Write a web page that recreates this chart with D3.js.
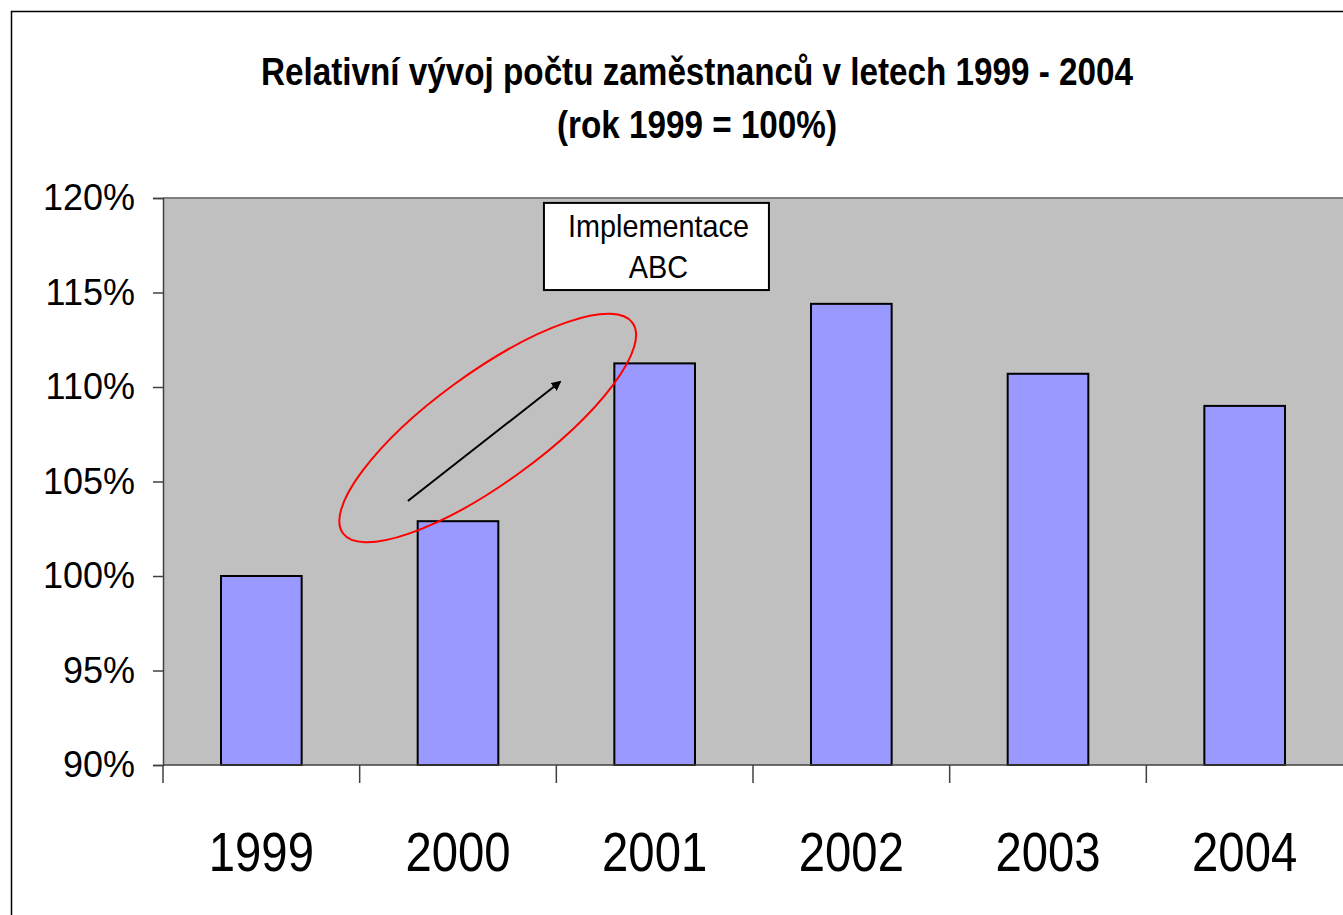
<!DOCTYPE html>
<html>
<head>
<meta charset="utf-8">
<script src="https://cdn.jsdelivr.net/npm/d3@7"></script>
<style>
  body { margin: 0; background: #fff; }
  text { font-family: "Liberation Sans", Arial, sans-serif; fill: #000; }
</style>
</head>
<body>
<svg id="chart" width="1343" height="915"></svg>
<script>
// data - relative headcount, 1999 = 100%
var years = ["1999", "2000", "2001", "2002", "2003", "2004"];
var values = [1.000, 1.029, 1.1125, 1.144, 1.107, 1.090];
var yTicks = [0.90, 0.95, 1.00, 1.05, 1.10, 1.15, 1.20];
var titleLines = ["Relativní vývoj počtu zaměstnanců v letech 1999 - 2004", "(rok 1999 = 100%)"];
var noteLines = ["Implementace", "ABC"];

var W = 1343, H = 915;
var m = { left: 163, top: 198, right: 0, bottom: 150 };

var svg = d3.select("#chart");

// outer chart frame (right / bottom edges run off the page)
svg.append("rect").attr("x", 11.5).attr("y", 11.5).attr("width", W + 20).attr("height", H + 20)
    .attr("fill", "#fff").attr("stroke", "#000").attr("stroke-width", 1.5);

// scales
var x = d3.scaleBand().domain(years).range([m.left, W - m.right])
    .paddingInner(0.59).paddingOuter(0.295);
var y = d3.scaleLinear().domain([0.9, 1.2]).range([765, m.top]);
// continuous position along the category axis (0 = first bar centre)
var xi = d3.scaleLinear().domain([0, years.length - 1])
    .range([x(years[0]) + x.bandwidth() / 2, x(years[years.length - 1]) + x.bandwidth() / 2]);

// plot area
svg.append("rect").attr("x", m.left).attr("y", y(1.2)).attr("width", W - m.left + 10)
    .attr("height", y(0.9) - y(1.2)).attr("fill", "#c0c0c0");
svg.append("line").attr("x1", m.left).attr("x2", W).attr("y1", y(1.2)).attr("y2", y(1.2))
    .attr("stroke", "#808080").attr("stroke-width", 2);

// bars
svg.selectAll("rect.bar").data(values).enter().append("rect").attr("class", "bar")
    .attr("x", (d, i) => x(years[i])).attr("width", x.bandwidth())
    .attr("y", d => y(d)).attr("height", d => y(0.9) - y(d))
    .attr("fill", "#9999ff").attr("stroke", "#000").attr("stroke-width", 2);

// y axis
var yAxis = d3.axisLeft(y).tickValues(yTicks).tickFormat(d3.format(".0%"))
    .tickSize(10).tickPadding(18);
var gy = svg.append("g").attr("transform", "translate(" + m.left + ",0)").call(yAxis);
gy.select(".domain").attr("stroke", "#404040").attr("stroke-width", 1.5);
gy.selectAll(".tick line").attr("stroke", "#404040").attr("stroke-width", 1.5);
gy.selectAll(".tick text").attr("font-size", 36).attr("font-family", "Liberation Sans, Arial, sans-serif")
    .attr("fill", "#000");

// x axis - ticks sit at category boundaries
svg.append("line").attr("x1", m.left).attr("x2", W).attr("y1", y(0.9)).attr("y2", y(0.9))
    .attr("stroke", "#404040").attr("stroke-width", 1.5);
var bounds = d3.range(years.length).map(i => x(years[i]) - x.step() * x.paddingInner() / 2);
svg.selectAll("line.xtick").data(bounds).enter().append("line").attr("class", "xtick")
    .attr("x1", d => d).attr("x2", d => d).attr("y1", y(0.9)).attr("y2", y(0.9) + 18)
    .attr("stroke", "#404040").attr("stroke-width", 1.5);
svg.selectAll("text.xlab").data(years).enter().append("text").attr("class", "xlab")
    .attr("transform", d => "translate(" + (x(d) + x.bandwidth() / 2) + ",871) scale(0.86,1)")
    .attr("text-anchor", "middle").attr("font-size", 55).text(d => d);

// title
svg.selectAll("text.title").data(titleLines).enter().append("text").attr("class", "title")
    .attr("transform", (d, i) => "translate(697," + (85 + i * 53) + ") scale(0.875,1)")
    .attr("text-anchor", "middle").attr("font-size", 38).attr("font-weight", "bold").text(d => d);

// annotation: red ellipse with arrow over the 1999-2001 rise
var defs = svg.append("defs");
defs.append("marker").attr("id", "arrow").attr("viewBox", "0 0 10 10").attr("refX", 8).attr("refY", 5)
    .attr("markerWidth", 5).attr("markerHeight", 5).attr("orient", "auto")
    .append("path").attr("d", "M0,0L10,5L0,10z").attr("fill", "#000");

var ex = xi(1.151), ey = y(1.0783);
svg.append("ellipse").attr("cx", 0).attr("cy", 0).attr("rx", 179).attr("ry", 55)
    .attr("transform", "translate(" + ex + "," + ey + ") rotate(-36)")
    .attr("fill", "none").attr("stroke", "#ff0000").attr("stroke-width", 2);
svg.append("line").attr("x1", xi(0.745)).attr("y1", y(1.0397)).attr("x2", xi(1.518)).attr("y2", y(1.1026))
    .attr("stroke", "#000").attr("stroke-width", 2).attr("marker-end", "url(#arrow)");

// text box
var bx0 = xi(1.437), bx1 = xi(2.581), by0 = y(1.1974), by1 = y(1.1513);
svg.append("rect").attr("x", bx0).attr("y", by0).attr("width", bx1 - bx0).attr("height", by1 - by0)
    .attr("fill", "#fff").attr("stroke", "#000").attr("stroke-width", 2);
svg.selectAll("text.note").data(noteLines).enter().append("text").attr("class", "note")
    .attr("transform", (d, i) => "translate(" + ((bx0 + bx1) / 2 + 2) + "," + (237 + i * 41) + ") scale(0.93,1)")
    .attr("text-anchor", "middle").attr("font-size", 31).text(d => d);
</script>
</body>
</html>
